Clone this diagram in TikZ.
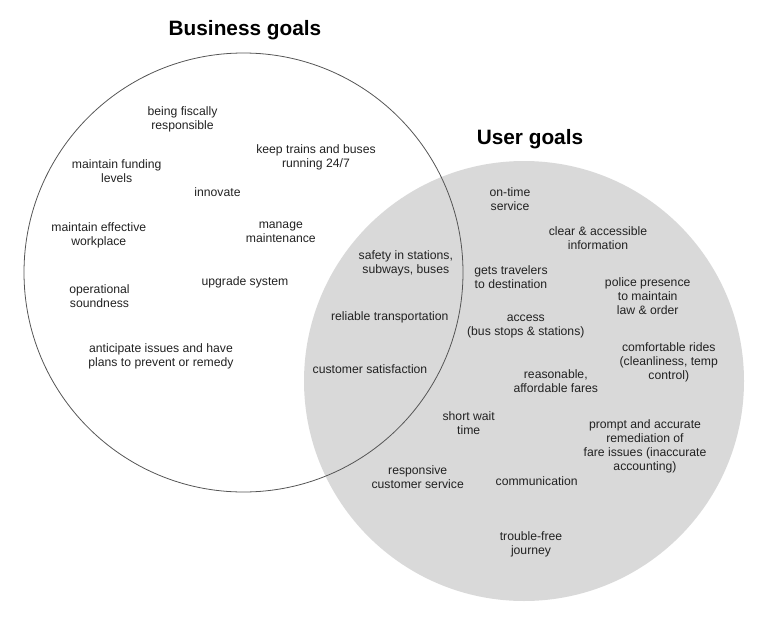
\documentclass[tikz,border=0pt]{standalone}
\usepackage{fontspec}
\setmainfont{Liberation Sans}
\usetikzlibrary{positioning}
\definecolor{usergray}{RGB}{217,217,217}
\definecolor{ringgray}{RGB}{85,85,85}
\definecolor{inkgray}{RGB}{34,34,34}

\begin{document}
\begin{tikzpicture}[
    x=1pt, y=-1pt,
    ring/.style={circle, inner sep=0pt, minimum size=439pt},
    title/.style={font=\fontsize{20.8}{24}\selectfont\bfseries, text=black},
    goal/.style={align=center, font=\fontsize{12.2}{14}\selectfont, text=inkgray, inner sep=1pt, yshift=-1.2pt}
]
\useasboundingbox (0,0) rectangle (768,616);

% Circles
\node[ring, fill=usergray, minimum size=440pt] (usrcircle) at (524,381) {};
\node[ring, draw=ringgray, line width=0.8pt] (bizcircle) at (243.5,272.5) {};

% Titles
\node[title] (biztitle) at (245,30.5) {Business goals};
\node[title] (usrtitle) at (530,139.5) {User goals};

% Business goals
\node[goal] (fiscal) at (182.5,118) {being fiscally\\responsible};
\node[goal] (running) at (316,156) {keep trains and buses\\running 24/7};
\node[goal] (funding) at (116.7,170) {maintain funding\\levels};
\node[goal] (innovate) at (217.5,191) {innovate};
\node[goal] (workplace) at (98.8,234) {maintain effective\\workplace};
\node[goal] (maint) at (280.8,231) {manage\\maintenance};
\node[goal] (upgrade) at (245,281) {upgrade system};
\node[goal] (sound) at (99.5,294.5) {operational\\soundness};
\node[goal] (anticipate) at (161,355) {anticipate issues and have\\plans to prevent or remedy};

% Shared goals
\node[goal] (safety) at (405.8,262) {safety in stations,\\subways, buses};
\node[goal] (reliable) at (389.8,315.7) {reliable transportation};
\node[goal] (satisf) at (370,368) {customer satisfaction};

% User goals
\node[goal] (ontime) at (510,198) {on-time\\service};
\node[goal] (clear) at (598,236.7) {clear \& accessible\\information};
\node[goal] (travel) at (511,276) {gets travelers\\to destination};
\node[goal] (police) at (647.7,295) {police presence\\to maintain\\law \& order};
\node[goal] (access) at (525.8,325.7) {access\\(bus stops \& stations)};
\node[goal] (comfort) at (668.8,361.3) {comfortable rides\\(cleanliness, temp\\control)};
\node[goal] (fares) at (555.8,380) {reasonable,\\affordable fares};
\node[goal] (wait) at (468.7,422) {short wait\\time};
\node[goal] (prompt) at (645,445) {prompt and accurate\\remediation of\\fare issues (inaccurate\\accounting)};
\node[goal] (service) at (417.7,476) {responsive\\customer service};
\node[goal] (comm) at (536.7,480) {communication};
\node[goal] (journey) at (531,542.7) {trouble-free\\journey};

\end{tikzpicture}
\end{document}
